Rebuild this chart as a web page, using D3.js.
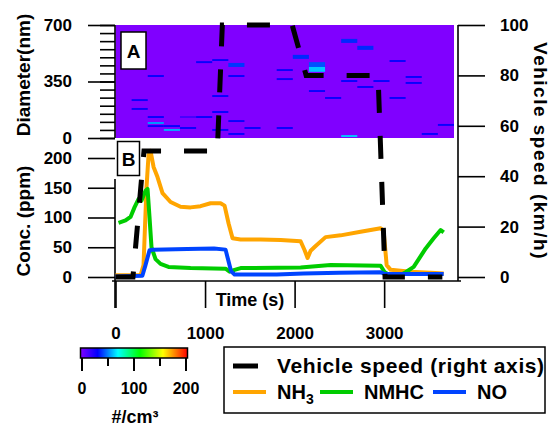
<!DOCTYPE html>
<html>
<head>
<meta charset="utf-8">
<script src="https://cdn.jsdelivr.net/npm/d3@7"></script>
<style>
  body { margin: 0; background: #fff; }
  text { font-family: "Liberation Sans", Arial, sans-serif; font-weight: bold; fill: #000; }
</style>
</head>
<body>
<svg id="chart" width="552" height="427"></svg>
<script>
// time series (t in s)
const speed = [[0, 0], [195, 0], [318, 50], [1137, 50], [1193, 100], [1973, 100], [2129, 80], [2932, 80], [3010, 0], [3650, 0]]
const nh3 = [[0, 3], [280, 3], [313, 20], [346, 150], [369, 205], [391, 212], [425, 185], [469, 168], [525, 141], [615, 126], [726, 118], [838, 117], [950, 119], [1061, 124], [1173, 124], [1218, 120], [1263, 90], [1307, 65], [1397, 63], [1620, 63], [1844, 62], [2067, 60], [2112, 45], [2145, 32], [2179, 44], [2235, 52], [2346, 67], [2514, 70], [2737, 76], [2961, 82], [2994, 78], [3028, 20], [3073, 12], [3296, 9], [3520, 7], [3665, 6]]
const nmhc = [[34, 91], [112, 95], [168, 101], [212, 117], [257, 131], [290, 128], [335, 145], [358, 148], [380, 100], [402, 50], [447, 30], [503, 22], [592, 17], [838, 15], [1229, 14], [1274, 9], [1330, 12], [1397, 15], [2067, 16], [2402, 20], [2961, 19], [3006, 8], [3073, 2], [3151, 1], [3240, 8], [3330, 17], [3408, 35], [3464, 48], [3553, 65], [3631, 79], [3665, 75]]
const no = [[0, 1], [300, 2], [335, 20], [380, 45], [420, 46], [800, 47], [1100, 48], [1229, 46], [1290, 10], [1330, 4], [1800, 4], [2100, 6], [2500, 7], [2961, 8], [3006, 5], [3665, 5]]

// size distribution cells: [time bin, d low, d high, count]
const binSeconds = 180
const sizeCells = [
  [1, 229, 241, 30], [1, 174, 186, 30],
  [2, 378, 390, 30], [2, 124, 136, 30], [2, 87, 99, 55], [2, 68, 80, 30],
  [3, 68, 80, 30], [3, 44, 56, 58],
  [4, 124, 136, 15], [4, 56, 68, 30],
  [5, 464, 476, 30], [5, 124, 136, 30],
  [6, 477, 489, 30], [6, 254, 266, 30], [6, 155, 167, 30], [6, 44, 56, 30],
  [7, 440, 465, 40], [7, 378, 390, 30], [7, 99, 111, 30], [7, 19, 31, 30],
  [8, 56, 68, 30],
  [10, 415, 427, 30], [10, 359, 371, 30], [10, 56, 68, 30],
  [11, 490, 515, 38],
  [12, 440, 470, 44], [12, 410, 440, 62], [12, 285, 297, 30],
  [13, 242, 254, 30],
  [14, 589, 614, 38], [14, 347, 359, 30], [14, 6, 18, 62],
  [15, 546, 571, 38], [15, 310, 322, 30],
  [16, 347, 359, 30],
  [17, 471, 483, 30], [17, 242, 254, 30],
  [18, 372, 384, 30], [18, 335, 347, 30],
  [19, 19, 31, 30],
  [20, 75, 87, 30]
]

// colour scale (#/cm3)
const cbStops = [0, 32, 70, 111, 154, 200]
const cbColors = ['#8000ff', '#0000ff', '#00ffff', '#00ff00', '#ffff00', '#ff0000']
const cbTicks = [0, 50, 100, 150, 200]
const cbLabels = [0, 100, 200]

const timeTicks = [0, 1000, 2000, 3000]
const diamTicks = [0, 350, 700]
const diamMinor = d3.range(0, 701, 50)
const concTicks = [0, 50, 100, 150, 200]
const speedTicks = [0, 20, 40, 60, 80, 100]

const seriesNames = ['NH', 'NMHC', 'NO']
const seriesColors = ['#ffa500', '#00cc00', '#0044ff']

const svg = d3.select('#chart')

const x = d3.scaleLinear().domain([0, 3780]).range([115.5, 454])
const yDiam = d3.scaleLinear().domain([0, 700]).range([138, 25])
const yConc = d3.scaleLinear().domain([0, 200]).range([277, 158])
const ySpeed = d3.scaleLinear().domain([0, 100]).range([277, 25])
const color = d3.scaleLinear().domain(cbStops).range(cbColors)

// panel A heat map
svg.append('rect')
  .attr('x', x(0)).attr('y', yDiam(700))
  .attr('width', x(3780) - x(0)).attr('height', yDiam(0) - yDiam(700))
  .attr('fill', color(0))

svg.append('g').selectAll('rect')
  .data(sizeCells)
  .join('rect')
  .attr('x', d => x(d[0] * binSeconds))
  .attr('width', d => x((d[0] + 1) * binSeconds) - x(d[0] * binSeconds))
  .attr('y', d => yDiam(d[2]))
  .attr('height', d => yDiam(d[1]) - yDiam(d[2]))
  .attr('fill', d => color(d[3]))

// axes
function styleAxis(g) {
  g.selectAll('.domain').remove()
  g.selectAll('.tick line').attr('stroke', '#000').attr('stroke-width', 1.6)
  g.selectAll('.tick text').style('font-size', '17px')
}

const axA = svg.append('g').attr('transform', 'translate(115,0)')
axA.append('g').call(d3.axisLeft(yDiam).tickValues(diamMinor).tickSize(15).tickFormat(''))
  .call(styleAxis)
axA.append('g').call(d3.axisLeft(yDiam).tickValues(diamTicks).tickSize(27).tickPadding(16))
  .call(styleAxis)
axA.append('line').attr('y1', yDiam(700)).attr('y2', yDiam(0)).attr('stroke', '#000').attr('stroke-width', 1.6)

const axB = svg.append('g').attr('transform', 'translate(115,0)')
axB.append('g').call(d3.axisLeft(yConc).tickValues(concTicks).tickSize(27).tickPadding(16))
  .call(styleAxis)
axB.append('line').attr('y1', 179).attr('y2', 308).attr('stroke', '#000').attr('stroke-width', 1.6)

const axX = svg.append('g').attr('transform', 'translate(0,281)')
axX.append('g').call(d3.axisBottom(x).tickValues(timeTicks).tickFormat(d3.format('d')).tickSize(27).tickPadding(19))
  .call(styleAxis)
axX.append('line').attr('x1', 112).attr('x2', 461).attr('stroke', '#000').attr('stroke-width', 1.6)

const axR = svg.append('g').attr('transform', 'translate(458,0)')
axR.append('g').call(d3.axisRight(ySpeed).tickValues(speedTicks).tickSize(27).tickPadding(15))
  .call(styleAxis)
axR.append('line').attr('y1', ySpeed(100)).attr('y2', 281).attr('stroke', '#000').attr('stroke-width', 1.6)

// concentration lines
const lineConc = d3.line().x(d => x(d[0])).y(d => yConc(d[1]))
const concSeries = [nh3, nmhc, no]
svg.append('g').selectAll('path')
  .data(concSeries)
  .join('path')
  .attr('d', lineConc)
  .attr('fill', 'none')
  .attr('stroke', (d, i) => seriesColors[i])
  .attr('stroke-width', 4)
  .attr('stroke-linejoin', 'round')

// speed (right axis)
svg.append('path')
  .datum(speed)
  .attr('d', d3.line().x(d => x(d[0])).y(d => ySpeed(d[1])))
  .attr('fill', 'none')
  .attr('stroke', '#000')
  .attr('stroke-width', 5)
  .attr('stroke-dasharray', '23,23')

// panel tags
function tag(bx, by, w, h, s) {
  svg.append('rect').attr('x', bx).attr('y', by).attr('width', w).attr('height', h)
    .attr('fill', '#fff').attr('stroke', '#000').attr('stroke-width', 1.5)
  svg.append('text').attr('x', bx + w / 2).attr('y', by + h / 2 + 7)
    .attr('text-anchor', 'middle').style('font-size', '19px').text(s)
}
tag(121, 32, 25, 37, 'A')
tag(117.5, 141.5, 22, 34, 'B')

// axis titles
svg.append('text').attr('transform', 'translate(30,75) rotate(-90)')
  .attr('text-anchor', 'middle').style('font-size', '19px').text('Diameter(nm)')
svg.append('text').attr('transform', 'translate(30,221) rotate(-90)')
  .attr('text-anchor', 'middle').style('font-size', '19px').text('Conc. (ppm)')
svg.append('text').attr('transform', 'translate(534,151) rotate(90)')
  .attr('text-anchor', 'middle').style('font-size', '19px').attr('letter-spacing', 1.5)
  .text('Vehicle speed (km/h)')
svg.append('text').attr('x', 250).attr('y', 306)
  .attr('text-anchor', 'middle').style('font-size', '18px').text('Time (s)')

// colour bar
const grad = svg.append('defs').append('linearGradient').attr('id', 'cb')
grad.selectAll('stop').data(cbStops).join('stop')
  .attr('offset', d => (d / 200 * 100) + '%')
  .attr('stop-color', d => color(d))
const cbx = d3.scaleLinear().domain([0, 200]).range([82, 186])
svg.append('rect').attr('x', 80.5).attr('y', 348).attr('width', 107).attr('height', 10)
  .attr('fill', 'url(#cb)').attr('stroke', '#000').attr('stroke-width', 1.5)
svg.append('g').selectAll('line').data(cbTicks).join('line')
  .attr('x1', d => cbx(d)).attr('x2', d => cbx(d))
  .attr('y1', 358).attr('y2', d => cbLabels.includes(d) ? 371 : 366)
  .attr('stroke', '#000').attr('stroke-width', 2)
svg.append('g').selectAll('text').data(cbLabels).join('text')
  .attr('x', d => cbx(d)).attr('y', 394).attr('text-anchor', 'middle')
  .style('font-size', '16px').text(d => d)
svg.append('text').attr('x', 135).attr('y', 423).attr('text-anchor', 'middle')
  .style('font-size', '18px').text('#/cm³')

// legend
const lg = svg.append('g')
lg.append('rect').attr('x', 224).attr('y', 347).attr('width', 321).attr('height', 66)
  .attr('fill', '#fff').attr('stroke', '#000').attr('stroke-width', 1.5)
lg.append('line').attr('x1', 233).attr('x2', 258).attr('y1', 366).attr('y2', 366)
  .attr('stroke', '#000').attr('stroke-width', 5)
lg.append('text').attr('x', 277).attr('y', 373).style('font-size', '21px').attr('letter-spacing', 0.6)
  .text('Vehicle speed (right axis)')
const lgX = [233, 320, 433]
seriesNames.forEach((n, i) => {
  lg.append('line').attr('x1', lgX[i]).attr('x2', lgX[i] + 33).attr('y1', 392).attr('y2', 392)
    .attr('stroke', seriesColors[i]).attr('stroke-width', 4)
  const t = lg.append('text').attr('x', lgX[i] + 44).attr('y', 399).style('font-size', '20px').text(n)
  if (i === 0) t.append('tspan').attr('dy', 5).style('font-size', '14px').text('3')
})
</script>
</body>
</html>
